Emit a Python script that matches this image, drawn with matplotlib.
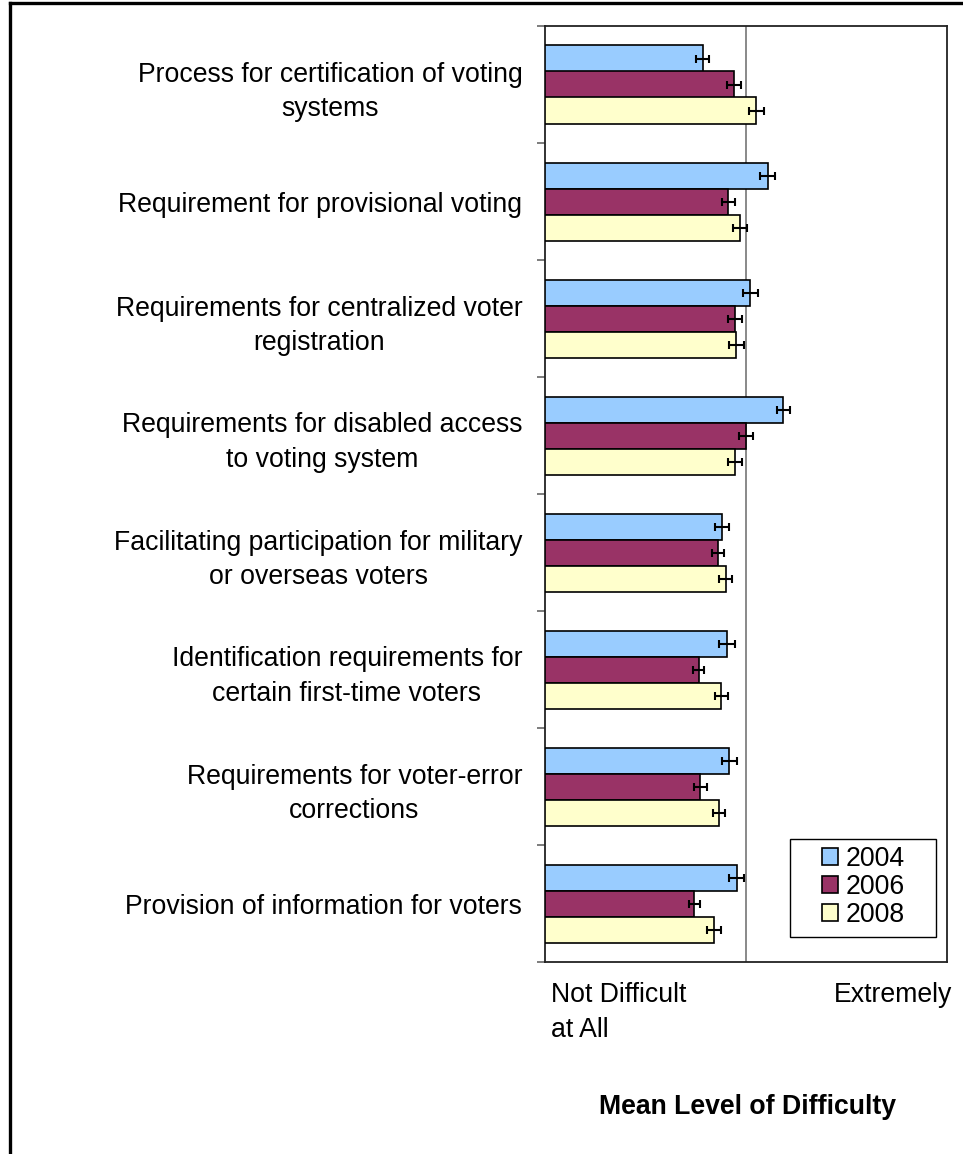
import matplotlib
matplotlib.use('Agg')
import matplotlib.pyplot as plt
import numpy as np
from matplotlib.lines import Line2D
from matplotlib.patches import Rectangle

plt.rcParams['font.family'] = ['Liberation Sans', 'DejaVu Sans']

categories = [
    'Process for certification of voting\nsystems',
    'Requirement for provisional voting',
    'Requirements for centralized voter\nregistration',
    'Requirements for disabled access\nto voting system',
    'Facilitating participation for military\nor overseas voters',
    'Identification requirements for\ncertain first-time voters',
    'Requirements for voter-error\ncorrections',
    'Provision of information for voters',
]
years = ['2004', '2006', '2008']
mean_2004 = [2.573, 3.219, 3.046, 3.374, 2.768, 2.814, 2.837, 2.910]
mean_2006 = [2.884, 2.827, 2.894, 3.006, 2.728, 2.533, 2.546, 2.489]
mean_2008 = [3.105, 2.940, 2.907, 2.894, 2.801, 2.758, 2.731, 2.685]
err_2004 = [0.063, 0.073, 0.073, 0.067, 0.070, 0.075, 0.073, 0.073]
err_2006 = [0.070, 0.067, 0.067, 0.070, 0.060, 0.055, 0.065, 0.053]
err_2008 = [0.073, 0.070, 0.073, 0.073, 0.067, 0.062, 0.060, 0.067]
colors = ['#99CCFF', '#993366', '#FFFFCC']

means = [mean_2004, mean_2006, mean_2008]
errs = [err_2004, err_2006, err_2008]

FS = 19.2
W, H = 963, 1154

fig = plt.figure(figsize=(W / 100, H / 100), dpi=100)
ax = fig.add_axes([544.5 / W, 1 - 962 / H, (947 - 544.5) / W, (962 - 26) / H])

n = len(categories)
centers = np.arange(n)[::-1] + 0.5
h = 1 / 4.5
for i, (yr, m, e, c) in enumerate(zip(years, means, errs, colors)):
    ypos = centers + (1 - i) * h
    ax.barh(ypos, np.array(m) - 1, left=1, height=h, color=c, edgecolor='black',
            linewidth=1.2, label=yr, zorder=3)
    ax.errorbar(m, ypos, xerr=e, fmt='none', ecolor='black', elinewidth=1.5,
                capsize=3, capthick=1.5, zorder=4)

ax.set_xlim(1, 5)
ax.set_ylim(0, n)
ax.set_xticks([3])
ax.set_xticklabels([])
ax.tick_params(axis='x', length=0)
ax.grid(axis='x', color='#808080', linewidth=1.3, zorder=1)

ax.set_yticks(centers)
ax.set_yticklabels(categories, fontsize=FS, ha='right', multialignment='center',
                   linespacing=1.42)
ax.tick_params(axis='y', which='major', length=0, pad=16)
ax.set_yticks(np.arange(n + 1), minor=True)
ax.tick_params(axis='y', which='minor', length=6, width=1.2, color='#666666', direction='out')

for s in ax.spines.values():
    s.set_linewidth(1.3)
    s.set_color('#222222')

ax.text(551 / W, 1 - 982 / H, 'Not Difficult\nat All', transform=fig.transFigure,
        fontsize=FS, ha='left', va='top', linespacing=1.45)
ax.text(952 / W, 1 - 1002 / H, 'Extremely', transform=fig.transFigure,
        fontsize=FS, ha='right', va='baseline')
ax.text(747 / W, 1 - 1114 / H, 'Mean Level of Difficulty', transform=fig.transFigure,
        fontsize=FS, fontweight='bold', ha='center', va='baseline')

# legend box drawn separately so its padding matches the original
fig.add_artist(Rectangle((790 / W, 1 - 937 / H), (936 - 790) / W, (937 - 839) / H,
                         transform=fig.transFigure, facecolor='white',
                         edgecolor='black', linewidth=1.0, zorder=5))
leg = ax.legend(loc='upper left', bbox_to_anchor=(822 / W, 1 - 846 / H),
                bbox_transform=fig.transFigure, fontsize=FS, frameon=False,
                handlelength=0.6, handleheight=0.6, handletextpad=0.3,
                labelspacing=0.08, borderpad=0, borderaxespad=0)
leg.set_zorder(6)
leg.remove()
fig.add_artist(leg)

# outer chart border (top and left visible)
fig.add_artist(Line2D([9.5 / W, 9.5 / W], [0, 1 - 2.5 / H], color='black',
                      linewidth=2.4, transform=fig.transFigure))
fig.add_artist(Line2D([9.5 / W, 1], [1 - 2.5 / H, 1 - 2.5 / H], color='black',
                      linewidth=2.4, transform=fig.transFigure))

fig.savefig('out.png', dpi=100)
